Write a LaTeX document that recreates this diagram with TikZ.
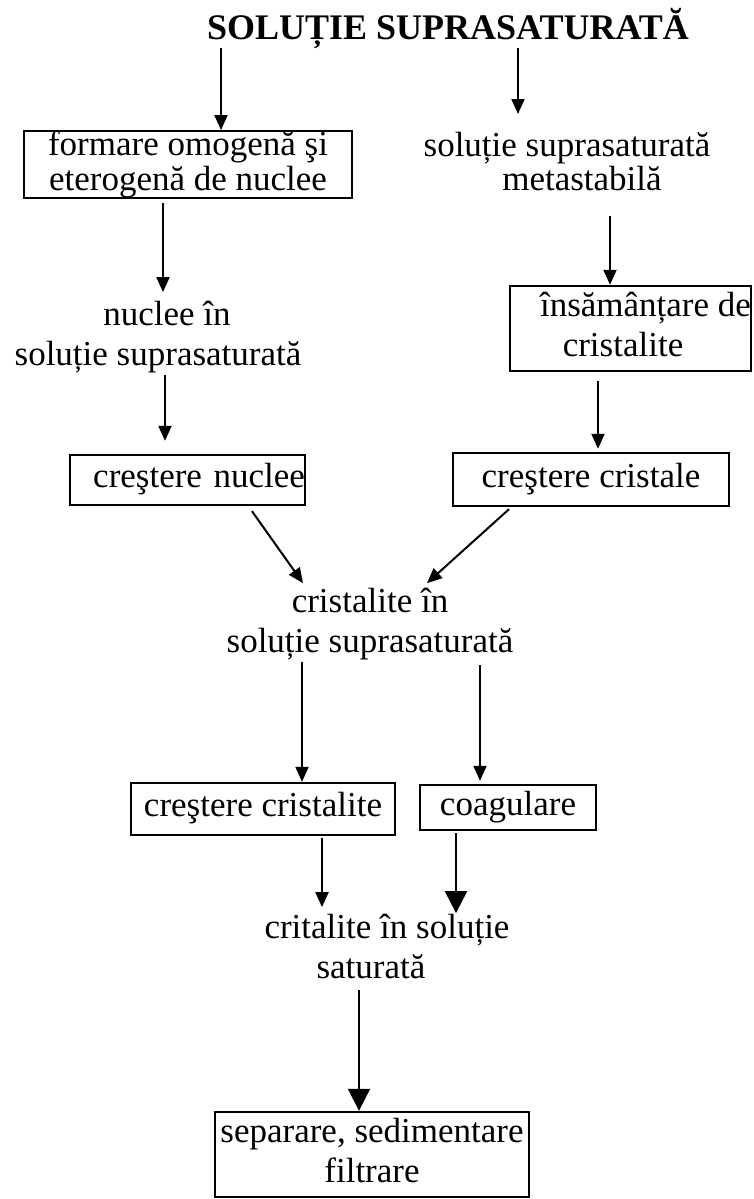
\documentclass[tikz,border=0pt]{standalone}
\usepackage{fontspec}
\setmainfont{Liberation Serif}
\usetikzlibrary{arrows.meta,calc}
\newcommand{\ls}{\rule[-9pt]{0pt}{25pt}}
\newcommand{\lsa}{\rule[-9pt]{0pt}{30pt}}
\newcommand{\lsb}{\rule[-6pt]{0pt}{25pt}}
\begin{document}
\begin{tikzpicture}[x=1pt,y=-1pt,
  every node/.style={font=\fontsize{35}{40}\selectfont, inner sep=0pt, align=center},
  tight/.style={font=\fontsize{35}{30}\selectfont},
  boxnode/.style={draw, line width=2.4pt},
  arr/.style={line width=2pt, -{Triangle[length=15pt,width=13pt]}},
  bigarr/.style={line width=2pt, -{Triangle[length=22pt,width=22pt]}}]
\clip (0,0) rectangle (753,1199);
\fill[white] (0,0) rectangle (753,1199);

% texts
\node[font=\fontsize{36}{40}\selectfont\bfseries] (title) at (448,28) {\ls SOLUȚIE SUPRASATURATĂ};
\node[tight] (sol) at (567,164.5) {\lsa soluție suprasaturată\\\lsb\hspace*{30pt}metastabilă};
\node (nuc) at (158,338) {\ls\hspace*{18pt}nuclee în\\\ls soluție suprasaturată};
\node (cri) at (370,625) {\ls cristalite în\\\ls soluție suprasaturată};
\node (crs) at (387,951) {\ls critalite în soluție\\\ls saturată\hspace*{32pt}};

% boxes
\node[boxnode, tight, minimum width=328pt, minimum height=66pt] (box1) at (188,164.5) {\lsa formare omogenă şi\\\lsb eterogenă de nuclee};
\node[boxnode, minimum width=241pt, minimum height=85pt] (ins) at (630.5,328.5) {\ls\hspace*{30pt}însămânțare de\\\ls cristalite\hspace*{15pt}};
\node[boxnode, minimum width=235pt, minimum height=50pt, text width=235pt, align=right] (cn) at (187.5,480) {\ls creştere nuclee};
\node[boxnode, minimum width=276pt, minimum height=53pt] (cc) at (591,479.5) {\ls creştere cristale};
\node[boxnode, minimum width=264pt, minimum height=52pt] (ccl) at (263,809) {\ls creştere cristalite};
\node[boxnode, minimum width=176pt, minimum height=45pt] (coag) at (508,807.5) {\ls coagulare};
\node[boxnode, minimum width=314pt, minimum height=85pt] (fin) at (372,1154.5) {\ls separare, sedimentare\\\ls filtrare};

% connectors
\coordinate (a1) at ($(title.south)+(-227,0)$);
\draw[arr] (a1) -- (a1 |- box1.north);
\coordinate (a2) at ($(title.south)+(70,0)$);
\draw[arr] (a2) -- ($(a2 |- sol.north)+(0,-18)$);
\coordinate (a3) at ($(box1.south)+(-25,4)$);
\draw[arr] (a3) -- ($(a3 |- nuc.north)+(0,-9)$);
\coordinate (a4) at ($(sol.south)+(43,19)$);
\draw[arr] (a4) -- (a4 |- ins.north);
\coordinate (a5) at ($(nuc.south)+(7,0)$);
\draw[arr] (a5) -- ($(a5 |- cn.north)+(0,-13)$);
\coordinate (a6) at ($(ins.south)+(-32.5,9)$);
\draw[arr] (a6) -- ($(a6 |- cc.north)+(0,-3)$);
\draw[arr] ($(cn.south)+(64.5,5)$) -- ($(cri.north)+(-67,-5)$);
\draw[arr] ($(cc.south)+(-82,2)$) -- ($(cri.north)+(57,-5)$);
\coordinate (a9) at ($(cri.south)+(-68,0)$);
\draw[arr] (a9) -- (a9 |- ccl.north);
\coordinate (a10) at ($(cri.south)+(110,3)$);
\draw[arr] (a10) -- ($(a10 |- coag.north)+(0,-3)$);
\coordinate (a11) at ($(ccl.south)+(59,2)$);
\draw[arr] (a11) -- ($(a11 |- crs.north)+(0,-7)$);
\coordinate (a12) at ($(coag.south)+(-52,2)$);
\draw[bigarr] (a12) -- ($(a12 |- crs.north)+(0,-1)$);
\coordinate (a13) at ($(crs.south)+(-28,2)$);
\draw[bigarr] (a13) -- (a13 |- fin.north);
\end{tikzpicture}
\end{document}
